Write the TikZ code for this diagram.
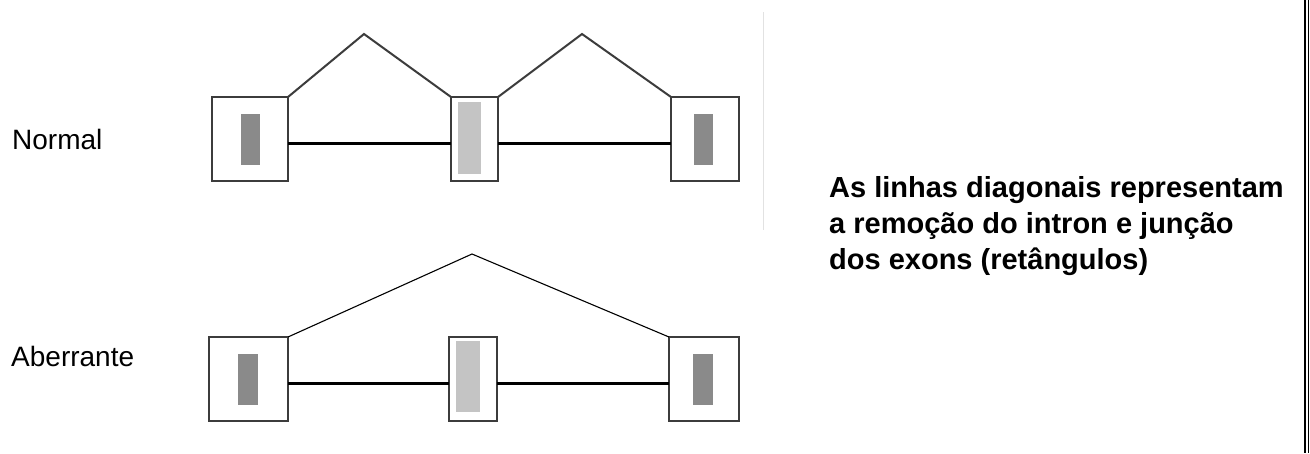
\documentclass[tikz,border=0pt]{standalone}
\usepackage{fontspec}
\setmainfont{Liberation Sans}
\definecolor{boxline}{HTML}{3C3C3C}
\definecolor{exondark}{HTML}{8A8A8A}
\definecolor{exonlight}{HTML}{C4C4C4}
\definecolor{faint}{HTML}{E2E2E2}
\tikzset{
  exonbox/.style={draw=boxline, line width=2pt, fill=white, inner sep=0pt, outer sep=0pt},
  innerdark/.style={fill=exondark, draw=none, inner sep=0pt},
  innerlight/.style={fill=exonlight, draw=none, inner sep=0pt},
  intronline/.style={draw=black, line width=3pt},
  splicenormal/.style={draw=boxline, line width=2pt, line join=miter},
  spliceaberrant/.style={draw=black, line width=1.1pt},
  rowlabel/.style={anchor=west, inner sep=0pt, font=\fontsize{28}{34}\selectfont},
  notetext/.style={anchor=west, inner sep=0pt, align=left, font=\fontsize{29}{36}\selectfont\bfseries}
}
\begin{document}
\begin{tikzpicture}[x=1pt,y=-1pt]
\useasboundingbox (0,0) rectangle (1310,453);
\fill[white] (0,0) rectangle (1310,453);
% faint separator
\draw[faint, line width=1pt] (763,12) -- (763,230);
% right double border
\draw[black, line width=1.6pt] (1305,0) -- (1305,453);
\draw[black, line width=1.6pt] (1308.5,0) -- (1308.5,453);

% ---------- Normal row ----------
\node[rowlabel] (lnormal) at (12,139) {Normal};
\coordinate (p1) at (364,34);
\coordinate (p2) at (582,34);
\node[exonbox, minimum width=76pt, minimum height=84pt] (a1) at (250,139) {};
\node[exonbox, minimum width=47pt, minimum height=84pt] (a2) at (474.5,139) {};
\node[exonbox, minimum width=68pt, minimum height=84pt] (a3) at (705,139) {};
\node[innerdark, minimum width=19pt, minimum height=51pt] (ai1) at (250.5,139.5) {};
\node[innerlight, minimum width=23pt, minimum height=72pt] (ai2) at (469.5,138) {};
\node[innerdark, minimum width=19pt, minimum height=51pt] (ai3) at (703.5,139.5) {};
\draw[intronline] ([yshift=-4pt]a1.east) -- ([yshift=-4pt]a2.west);
\draw[intronline] ([yshift=-4pt]a2.east) -- ([yshift=-4pt]a3.west);
\draw[splicenormal] (a1.north east) -- (p1) -- (a2.north west);
\draw[splicenormal] (a2.north east) -- (p2) -- (a3.north west);

% ---------- Aberrant row ----------
\node[rowlabel] (laber) at (11,356) {Aberrante};
\coordinate (q1) at (472,254);
\node[exonbox, minimum width=79pt, minimum height=84pt] (b1) at (248.5,379) {};
\node[exonbox, minimum width=48pt, minimum height=84pt] (b2) at (473,379) {};
\node[exonbox, minimum width=70pt, minimum height=84pt] (b3) at (704,379) {};
\node[innerdark, minimum width=20pt, minimum height=51pt] (bi1) at (248,379) {};
\node[innerlight, minimum width=24pt, minimum height=71pt] (bi2) at (467.5,376.5) {};
\node[innerdark, minimum width=20pt, minimum height=51pt] (bi3) at (702.5,379) {};
\draw[intronline] ([yshift=-4pt]b1.east) -- ([yshift=-4pt]b2.west);
\draw[intronline] ([yshift=-4pt]b2.east) -- ([yshift=-4pt]b3.west);
\draw[spliceaberrant] (b1.north east) -- (q1) -- (b3.north west);

% ---------- note ----------
\node[notetext] (note) at (829,226.5) {As linhas diagonais representam\\a remoção do intron e junção\\dos exons (retângulos)};
\end{tikzpicture}
\end{document}
